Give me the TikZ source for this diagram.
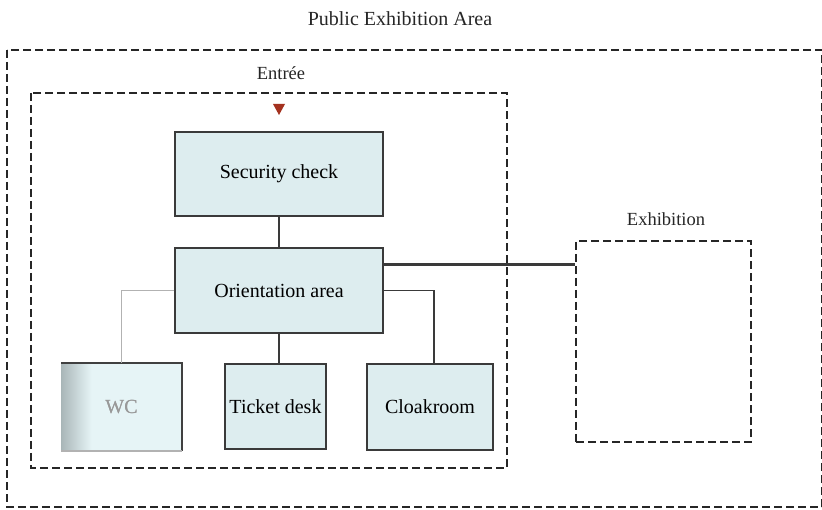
\documentclass[tikz,border=0pt]{standalone}
\usepackage{fontspec}
\setmainfont{Liberation Serif}
\usetikzlibrary{calc}
\definecolor{boxfill}{HTML}{DDEDEF}
\definecolor{boxline}{HTML}{3A3A3A}
\definecolor{wcgrey}{HTML}{A9B6B8}
\definecolor{wcfill}{HTML}{E6F4F6}
\definecolor{marker}{HTML}{A4321F}
\tikzset{
	room/.style={draw=boxline, line width=1.5pt, fill=boxfill, inner sep=0pt, font=\fontsize{20}{24}\selectfont},
	zone/.style={draw=black!85, line width=2.5pt, dash pattern=on 8pt off 4pt},
	link/.style={draw=boxline, line width=1.5pt},
	zonelabel/.style={font=\fontsize{18.5}{22}\selectfont, text=black!85}
}
\begin{document}
\begin{tikzpicture}[x=1pt, y=-1pt]
		%%%%% FRAME %%%%%
		\useasboundingbox (0, 0) rectangle (822, 510);
		\fill[white] (0, 0) rectangle (822, 510);
		
		%%%%% ZONES %%%%%
		\draw[zone] (7, 50) rectangle (822, 507);
		\node[zonelabel, font=\fontsize{20}{24}\selectfont] (publiclbl) at (400, 19) {Public Exhibition Area};
		
		\draw[zone] (31, 93) rectangle (507, 468);
		\node[zonelabel] (entreelbl) at (281, 73) {Entrée};
		
		\node[zone, minimum width=175pt, minimum height=201pt] (exhib) at (663.5, 341.5) {};
		\node[zonelabel] (exhiblbl) at (666, 219) {Exhibition};
		
		%%%%% ENTRANCE MARKER %%%%%
		\fill[marker] (273, 104) -- (285, 104) -- (279, 115) -- cycle;
		
		%%%%% ROOMS %%%%%
		\node[room, minimum width=208pt, minimum height=84pt] (security) at (279, 174) {Security check};
		\node[room, minimum width=208pt, minimum height=85pt] (orient) at (279, 290.5) {Orientation area};
		\node[room, minimum width=101pt, minimum height=85pt] (ticket) at (275.5, 406.5) {Ticket desk};
		\node[room, minimum width=126pt, minimum height=86pt] (cloak) at (430, 407) {Cloakroom};
		
		% faded WC block
		\node[room, draw=none, fill=wcfill, minimum width=119pt, minimum height=86pt, text=black!40] (wc) at (121.5, 407) {WC};
		\shade[left color=wcgrey, right color=wcfill] (wc.north west) rectangle ([xshift=30pt]wc.south west);
		\node[room, draw=none, fill=none, text=black!40] at (wc) {WC};
		\draw[link, draw=black!75] (wc.north west) -- (wc.north east) -- (wc.south east);
		\draw[link, draw=black!30] (wc.south west) -- (wc.south east);
		
		%%%%% CONNECTORS %%%%%
		\draw[link] (security.south) -- (orient.north);
		\draw[link] (orient.south) -- (orient.south |- ticket.north);
		\draw[link] (orient.east) -| ([xshift=4pt]cloak.north);
		\draw[link, draw=black!30] (orient.west) -| (wc.north);
		
		\coordinate (exhlink) at ([yshift=26pt]orient.east);
		\draw[link, line width=2.3pt] (exhlink) -- (exhlink -| exhib.west);
		
		%%%%% END %%%%%
	\end{tikzpicture}
\end{document}
